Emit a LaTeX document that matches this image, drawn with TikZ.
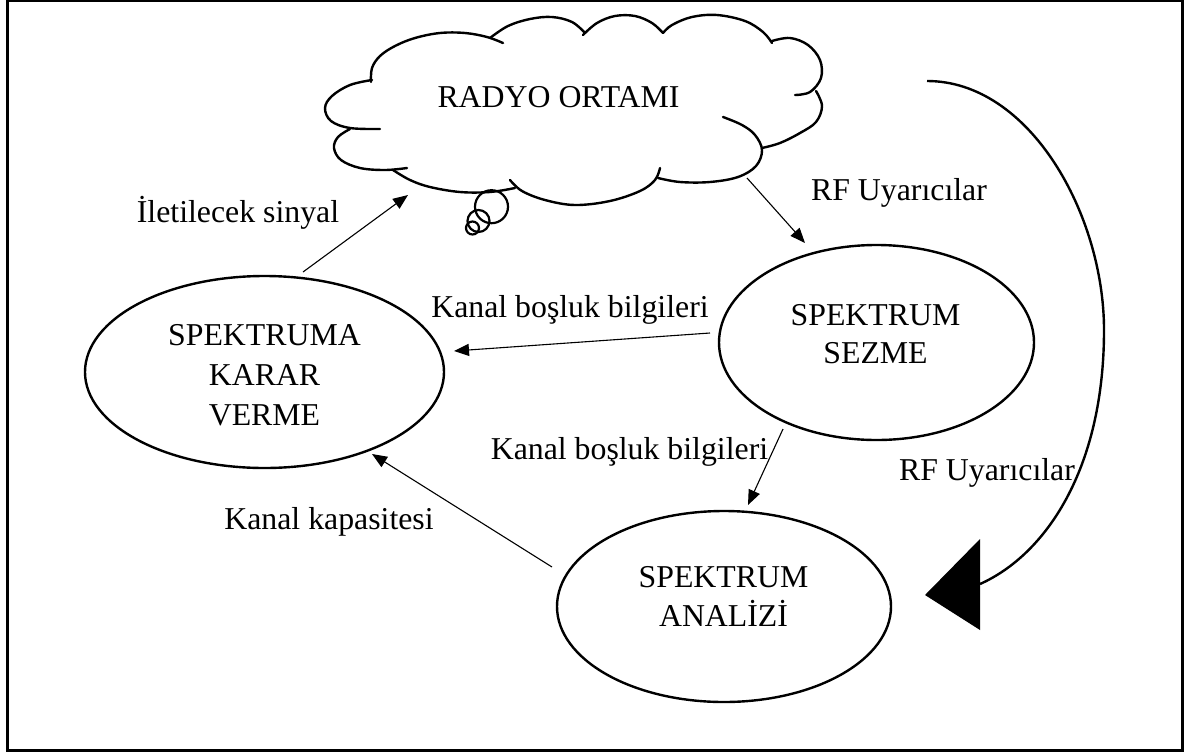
\documentclass[tikz,border=0pt]{standalone}
\usepackage{fontspec}
\setmainfont{Liberation Serif}
\usetikzlibrary{arrows.meta,calc,shapes.geometric}
\begin{document}
\begin{tikzpicture}[x=1pt,y=-1pt,
  txt/.style={font=\fontsize{31.8}{38}\selectfont, inner sep=0pt, anchor=base},
  bubble/.style={draw, line width=2.4pt, ellipse, inner sep=0pt},
  flow/.style={line width=1.1pt, -{Triangle[length=15pt,width=12pt]}},
  puff/.style={line width=2.4pt, line cap=round},
]
\useasboundingbox (0,0) rectangle (1185,753);
% outer frame
\draw[line width=2.4pt] (7.3,1.2) rectangle (1182.3,750.3);

% cloud outline: one smooth stroke per bump, ends overlapping for the creases
\draw[puff] plot[smooth, tension=0.6] coordinates {(372,80) (350,85) (332,96) (325,108) (331,121) (350,128) (380,129)};
\draw[puff] plot[smooth, tension=0.6] coordinates {(371,82) (372,68) (380,56) (395,46) (415,38) (440,33) (465,33) (487,37) (503,43)};
\draw[puff] plot[smooth, tension=0.6] coordinates {(490,38) (508,26) (530,19) (552,17) (572,22) (585,33)};
\draw[puff] plot[smooth, tension=0.6] coordinates {(583,35) (597,23) (615,16) (635,16) (652,23) (663,33)};
\draw[puff] plot[smooth, tension=0.6] coordinates {(663,33) (672,25) (692,17) (717,15) (745,21) (763,32) (772,43)};
\draw[puff] plot[smooth, tension=0.6] coordinates {(772,41) (790,38) (808,45) (820,60) (821,78) (810,92) (795,95)};
\draw[puff] plot[smooth, tension=0.6] coordinates {(816,91) (822,106) (816,122) (800,133) (780,143) (762,148)};
\draw[puff] plot[smooth, tension=0.6] coordinates {(723,117) (742,125) (755,135) (762,150) (756,166) (738,177) (710,182) (680,182) (658,178)};
\draw[puff] plot[smooth, tension=0.6] coordinates {(510,180) (522,191) (545,200) (575,205) (610,201) (640,191) (655,180) (660,168)};
\draw[puff] plot[smooth, tension=0.6] coordinates {(393,170) (410,180) (430,187) (460,192) (490,192) (515,188)};
\draw[puff] plot[smooth, tension=0.6] coordinates {(350,129) (338,137) (334,148) (341,160) (360,168) (385,170) (407,168)};
% thought bubbles under the cloud
\draw[line width=2.2pt] (491.5,206.7) circle[radius=16.5];
\draw[line width=2.2pt] (478.5,221) circle[radius=11];
\draw[line width=2.2pt] (472.5,228) circle[radius=6.5];
\node[txt] (radyo) at (558.5,107) {RADYO ORTAMI};

% process ellipses
\node[bubble, minimum width=359pt, minimum height=192pt] (karar) at (264.5,372) {};
\node[bubble, minimum width=315pt, minimum height=195pt] (sezme) at (876.5,342.5) {};
\node[bubble, minimum width=334pt, minimum height=191pt] (analiz) at (724,606.5) {};

\node[txt] (karar-1) at (264.5,345) {SPEKTRUMA};
\node[txt] (karar-2) at (264.5,385) {KARAR};
\node[txt] (karar-3) at (264.5,425) {VERME};
\node[txt] (sezme-1) at (875.5,325) {SPEKTRUM};
\node[txt] (sezme-2) at (875.5,363) {SEZME};
\node[txt] (analiz-1) at (723.5,587) {SPEKTRUM};
\node[txt] (analiz-2) at (723.5,626) {ANALİZİ};

% connector labels
\node[txt] (lbl-ilet) at (238,222) {İletilecek sinyal};
\node[txt] (lbl-rf1) at (899,200) {RF Uyarıcılar};
\node[txt] (lbl-rf2) at (987,480) {RF Uyarıcılar};
\node[txt] (lbl-kb1) at (570,317) {Kanal boşluk bilgileri};
\node[txt] (lbl-kb2) at (629.5,459) {Kanal boşluk bilgileri};
\node[txt] (lbl-kap) at (329,529) {Kanal kapasitesi};

% connector end points
\coordinate (karar-top) at (303,272);
\coordinate (cloud-in) at (408,195);
\coordinate (cloud-out) at (747,178);
\coordinate (sezme-in) at (805,243);
\coordinate (sezme-w) at (710,333);
\coordinate (karar-e) at (454,351);
\coordinate (sezme-s) at (783,429);
\coordinate (analiz-in) at (748,505);
\coordinate (analiz-w) at (552,567);
\coordinate (karar-se) at (372,454);
\coordinate (rf-start) at (927,81);
\coordinate (rf-end) at (980,584);

\draw[flow] (karar-top) -- (cloud-in);
\draw[flow] (cloud-out) -- (sezme-in);
\draw[flow] (sezme-w) -- (karar-e);
\draw[flow] (sezme-s) -- (analiz-in);
\draw[flow] (analiz-w) -- (karar-se);

% large feedback arc with its wide head
\draw[line width=2.4pt] (rf-start) .. controls (1030,81) and (1104,215) .. (1104,330)
  .. controls (1104,470) and (1045,555) .. (rf-end);
\fill (980,539) -- (980,630) -- (925,595) -- cycle;
\end{tikzpicture}
\end{document}
